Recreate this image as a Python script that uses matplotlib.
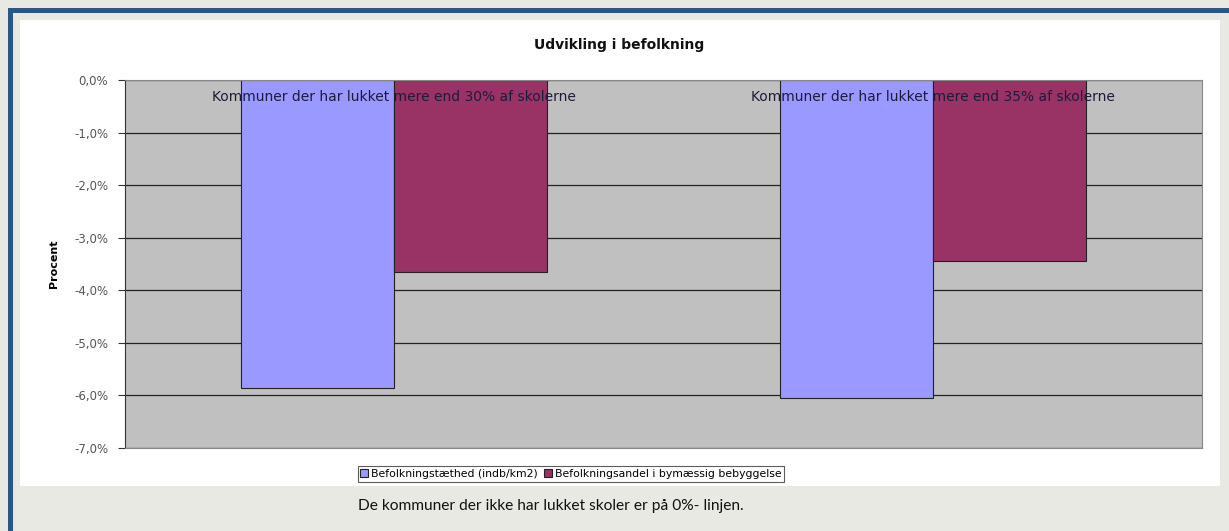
import matplotlib
matplotlib.use("Agg")
import matplotlib.pyplot as plt
from matplotlib.patches import Rectangle
import numpy as np

title = "Udvikling i befolkning"
categories = [
    "Kommuner der har lukket mere end 30% af skolerne",
    "Kommuner der har lukket mere end 35% af skolerne",
]
series_names = [
    "Befolkningstæthed (indb/km2)",
    "Befolkningsandel i bymæssig bebyggelse",
]
density = [-5.85, -6.05]
urban_share = [-3.65, -3.45]
y_ticks = [0, -1, -2, -3, -4, -5, -6, -7]
caption = "De kommuner der ikke har lukket skoler er på 0%- linjen."

W, H = 1229, 531
fig = plt.figure(figsize=(W / 100, H / 100), dpi=100)
fig.patch.set_facecolor("#e9e9e4")

# slide frame and white chart panel
fig.patches.append(Rectangle((8 / W, 0), 5 / W, 1 - 8 / H, transform=fig.transFigure,
                             facecolor="#2c5687", edgecolor="none", zorder=-5))
fig.patches.append(Rectangle((8 / W, 1 - 13 / H), 1 - 8 / W, 5 / H, transform=fig.transFigure,
                             facecolor="#2c5687", edgecolor="none", zorder=-5))
fig.patches.append(Rectangle((20 / W, 1 - 486 / H), 1200 / W, 466 / H, transform=fig.transFigure,
                             facecolor="white", edgecolor="none", zorder=-5))

ax = fig.add_axes([125 / W, 1 - 448 / H, (1202 - 125) / W, (448 - 80) / H])
ax.set_zorder(2)
ax.set_facecolor("#c0c0c0")

x = np.arange(len(categories))
width = 0.284
ax.set_axisbelow(True)
ax.yaxis.grid(True, color="#222222", linewidth=0.9)
ax.bar(x - width / 2, density, width, color="#9999ff", edgecolor="#222222",
       linewidth=0.8, label=series_names[0])
ax.bar(x + width / 2, urban_share, width, color="#993366", edgecolor="#222222",
       linewidth=0.8, label=series_names[1])

ax.set_xlim(-0.5, 1.5)
ax.set_ylim(-7, 0)
ax.set_yticks(y_ticks)
ax.set_yticklabels([f"{v:.1f}%".replace(".", ",") for v in y_ticks],
                   color="#555555", fontsize=8.5)
ax.tick_params(axis="y", length=5, color="#333333", pad=7)
ax.set_xticks([])

for xi, cat in zip(x, categories):
    ax.text(xi, -0.32, cat, ha="center", va="center", fontsize=10,
            color="#1c1c3a", zorder=5)

for side in ["top", "right", "bottom"]:
    ax.spines[side].set_color("#888888")
ax.spines["left"].set_color("#333333")

ax.set_ylabel("Procent", fontsize=8, fontweight="bold",
              family=["Liberation Sans Narrow", "DejaVu Sans"], labelpad=11)

fig.text(619 / W, 1 - 45 / H, title, ha="center", va="center",
         fontsize=10, fontweight="bold", color="#111111")

handles, labels = ax.get_legend_handles_labels()
leg = fig.legend(handles, labels, loc="center", bbox_to_anchor=(571 / W, 1 - 474 / H), ncol=2,
                 fontsize=7.8, frameon=True, fancybox=False, edgecolor="#333333",
                 handlelength=0.7, handleheight=0.7, handletextpad=0.3,
                 columnspacing=0.6, borderpad=0.25, borderaxespad=0)
leg.get_frame().set_linewidth(0.8)

fig.text(551 / W, 1 - 506 / H, caption, ha="center", va="center",
         fontsize=11.2, family=["Lato", "DejaVu Sans"], color="#111111")

fig.savefig("out.png", dpi=100, facecolor=fig.get_facecolor())
